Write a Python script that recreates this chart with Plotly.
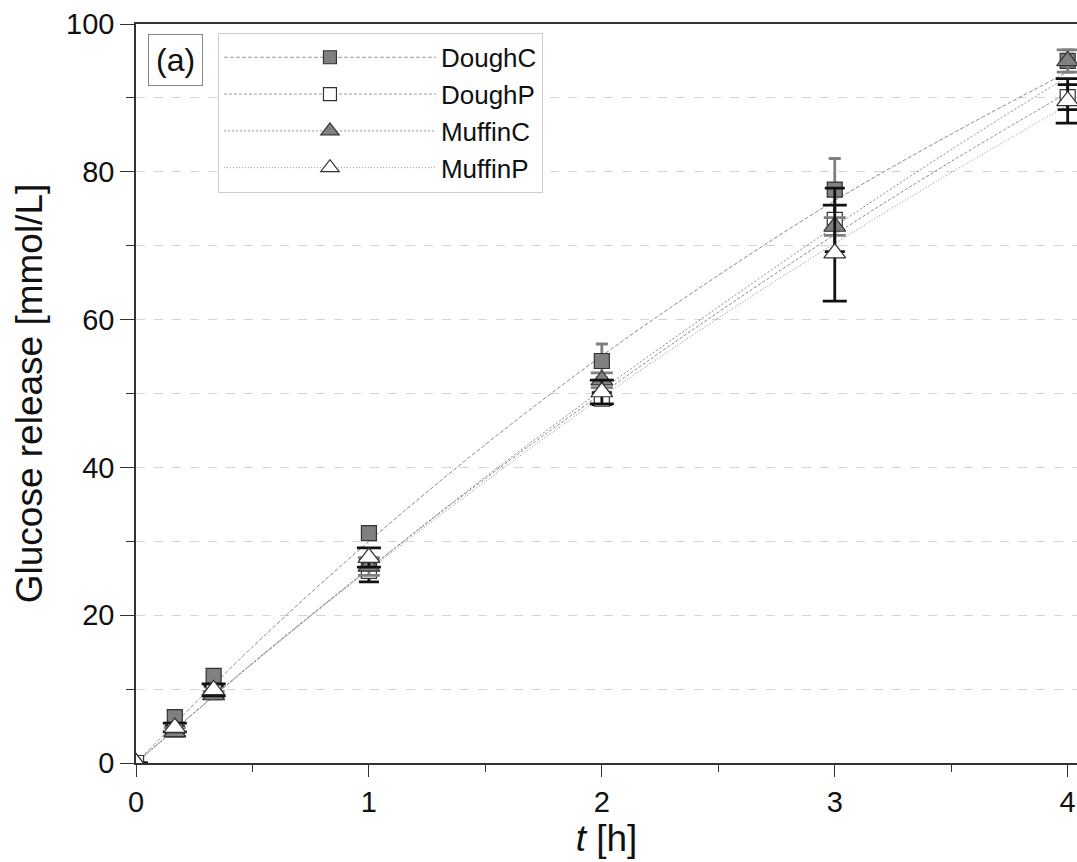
import plotly.graph_objects as go

# ---- data ----
t = [0, 1/6, 1/3, 1, 2, 3, 4]
series_names = ["DoughC", "DoughP", "MuffinC", "MuffinP"]
dough_c = [0, 6.2, 11.8, 31.1, 54.4, 77.6, 95.0]
dough_c_err = [0, 0.5, 0.6, 0.5, 2.3, 4.2, 1.5]
dough_p = [0, 4.5, 9.6, 26.0, 49.3, 73.5, 90.1]
dough_p_err = [0, 0.5, 0.8, 1.5, 0.8, 4.3, 1.7]
muffin_c = [0, 4.2, 9.2, 26.6, 51.8, 72.6, 95.0]
muffin_c_err = [0, 0.6, 0.5, 1.2, 1.0, 1.2, 1.5]
muffin_p = [0, 4.8, 9.9, 27.8, 50.2, 69.0, 89.6]
muffin_p_err = [0, 0.6, 0.8, 1.3, 1.6, 6.5, 3.0]

# fitted curves
t_fit = [0, 0.5, 1, 1.5, 2, 2.5, 3, 3.5, 4]
fit_dough_c = [0, 15.7, 30.0, 43.1, 55.1, 66.0, 76.1, 85.1, 93.5]
fit_dough_p = [0, 13.5, 26.3, 38.5, 50.0, 61.0, 71.5, 81.4, 90.7]
fit_muffin_c = [0, 13.5, 26.3, 38.7, 50.5, 61.7, 72.6, 83.0, 92.9]
fit_muffin_p = [0, 13.4, 26.1, 38.1, 49.5, 60.2, 70.3, 79.9, 89.0]

FONT = "Liberation Sans, Arial, sans-serif"

styles = {
    "DoughC": dict(symbol="square", fill="#808080", size=15, err_color="#808080", err_w=6, dash="4px,2px"),
    "DoughP": dict(symbol="square", fill="white", size=15, err_color="#111111", err_w=10, dash="3px,2px"),
    "MuffinC": dict(symbol="triangle-up", fill="#808080", size=19, err_color="#808080", err_w=11, dash="2px,2px"),
    "MuffinP": dict(symbol="triangle-up", fill="white", size=19, err_color="#111111", err_w=12, dash="1px,2px"),
}
data = {
    "DoughC": (dough_c, dough_c_err, fit_dough_c),
    "DoughP": (dough_p, dough_p_err, fit_dough_p),
    "MuffinC": (muffin_c, muffin_c_err, fit_muffin_c),
    "MuffinP": (muffin_p, muffin_p_err, fit_muffin_p),
}

fig = go.Figure()

# fit lines
for name in series_names:
    s = styles[name]
    fig.add_trace(go.Scatter(
        x=t_fit, y=data[name][2], mode="lines", line_shape="spline",
        line=dict(color="#8a8a8a", width=1, dash=s["dash"]),
        showlegend=False, hoverinfo="skip"))

# data points with error bars
for name in series_names:
    s = styles[name]
    vals, errs, _ = data[name]
    fig.add_trace(go.Scatter(
        x=t, y=vals, mode="markers", name=name, showlegend=False,
        marker=dict(symbol=s["symbol"], size=s["size"], color=s["fill"],
                    line=dict(color="#333333", width=1.2)),
        error_y=dict(type="data", array=errs, visible=True,
                     color=s["err_color"], thickness=2.8, width=s["err_w"])))

# legend entries
for name in series_names:
    s = styles[name]
    fig.add_trace(go.Scatter(
        x=[None], y=[None], mode="lines+markers", name=name,
        line=dict(color="#9a9a9a", width=1, dash=s["dash"]),
        marker=dict(symbol=s["symbol"], size=s["size"] - 2, color=s["fill"],
                    line=dict(color="#333333", width=1.2))))

fig.add_annotation(
    x=0.0425, y=0.951, xref="paper", yref="paper", text="(a)", showarrow=False,
    xanchor="center", yanchor="middle",
    font=dict(family=FONT, size=32, color="#111"),
    bordercolor="#888888", borderwidth=1, borderpad=7, bgcolor="white")

fig.update_layout(
    width=1077, height=862,
    margin=dict(l=136, r=0, t=24, b=99),
    paper_bgcolor="white", plot_bgcolor="white",
    font=dict(family=FONT, color="#111111"),
    legend=dict(x=0.0871, y=0.988, xanchor="left", yanchor="top",
                bgcolor="white", bordercolor="#cccccc", borderwidth=1,
                font=dict(family=FONT, size=26, color="#111"),
                itemwidth=212, tracegroupgap=0),
    xaxis=dict(range=[0, 4.04], tickmode="array", tickvals=[0, 1, 2, 3, 4],
               ticks="outside", ticklen=12, tickwidth=1, tickcolor="#333",
               minor=dict(tickvals=[0.5, 1.5, 2.5, 3.5], ticks="outside", ticklen=7, tickcolor="#333"),
               showline=True, linecolor="#333333", linewidth=1.5, mirror=True,
               showgrid=False, zeroline=False,
               tickfont=dict(family=FONT, size=29, color="#111"),
               title=dict(text="<i>t</i> [h]", font=dict(family=FONT, size=37, color="#111"), standoff=6)),
    yaxis=dict(range=[0, 100], dtick=20, tick0=0,
               ticks="outside", ticklen=14, tickwidth=1, tickcolor="#333",
               minor=dict(dtick=10, ticks="outside", ticklen=8, tickcolor="#333",
                          showgrid=True, gridcolor="#d4d4d4", griddash="dash", gridwidth=1),
               showgrid=True, gridcolor="#d4d4d4", griddash="dash", gridwidth=1,
               showline=True, linecolor="#333333", linewidth=1.5, mirror=False,
               zeroline=False,
               tickfont=dict(family=FONT, size=29, color="#111"),
               title=dict(text="Glucose release [mmol/L]", font=dict(family=FONT, size=37, color="#111"), standoff=12)),
)

fig.write_html("out.html")
